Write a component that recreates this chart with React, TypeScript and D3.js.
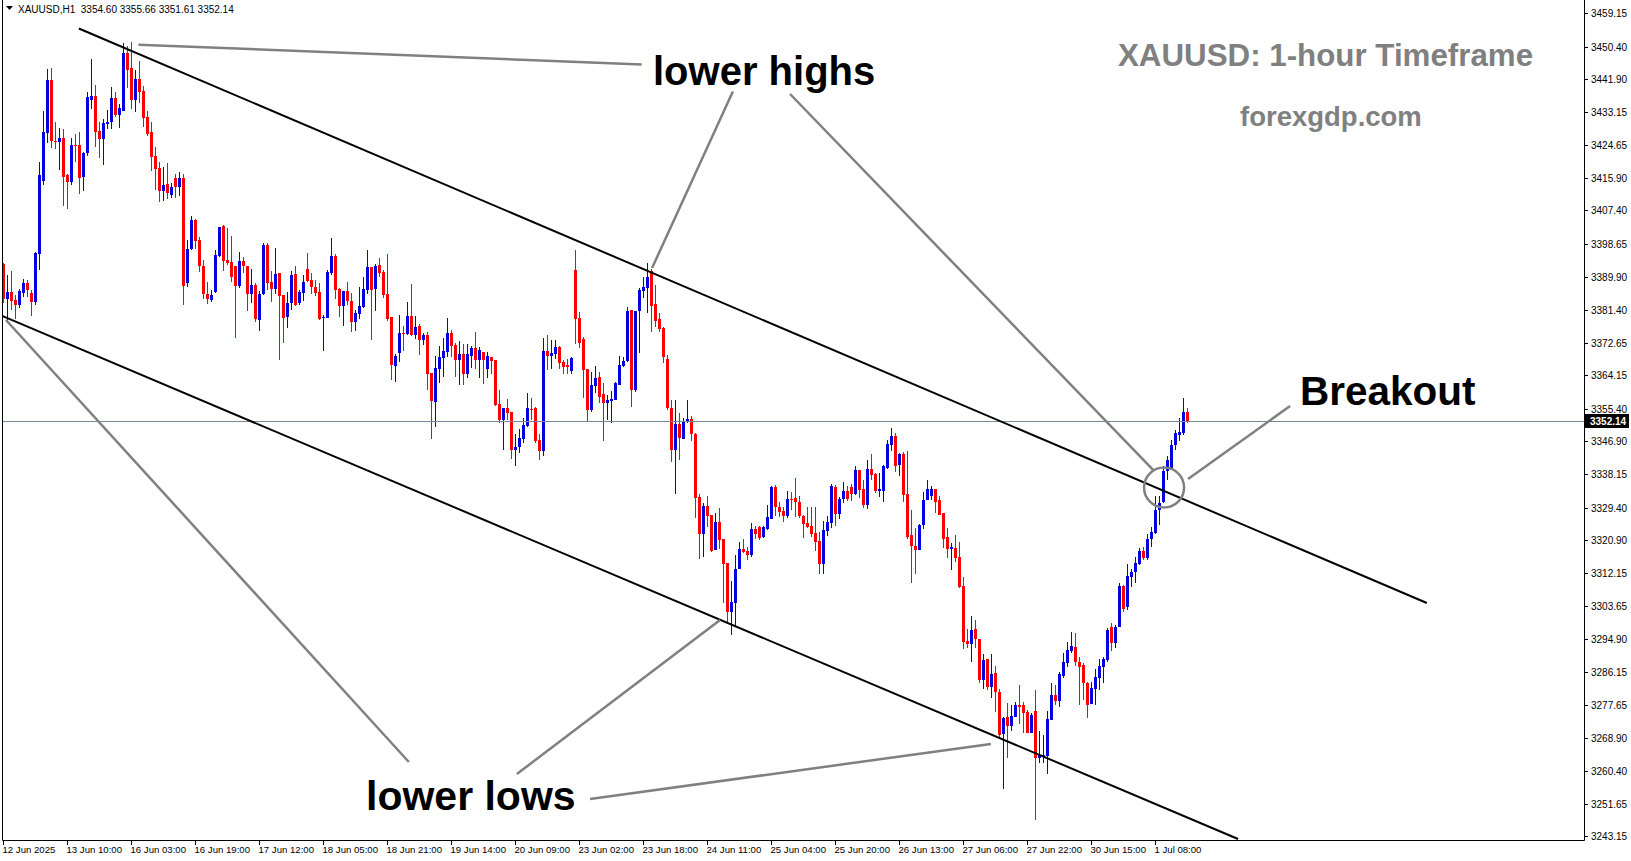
import React, { useEffect, useRef } from 'react';
import * as d3 from 'd3';

// XAUUSD H1 candles, bar 0 = 12 Jun 2025 17:00, last bar = 1 Jul 16:00
const opens = [
  3393.3, 3384.1, 3386.0, 3383.9, 3382.6, 3385.8, 3388.4, 3385.7, 3383.5, 3395.9,
  3415.2, 3427.8, 3441.6, 3425.7, 3425.4, 3426.4, 3416.7, 3414.9, 3424.6, 3424.6,
  3416.3, 3422.5, 3436.4, 3437.4, 3428.2, 3426.2, 3430.1, 3430.6, 3436.9, 3432.5,
  3433.5, 3448.7, 3444.8, 3436.4, 3441.9, 3438.8, 3431.9, 3428.0, 3421.7, 3418.6,
  3412.5, 3414.4, 3411.5, 3416.0, 3413.5, 3416.0, 3388.4, 3397.2, 3404.9, 3399.6,
  3392.7, 3385.6, 3383.9, 3386.1, 3395.5, 3403.2, 3394.4, 3394.0, 3392.8, 3387.7,
  3394.1, 3392.8, 3385.6, 3387.8, 3378.7, 3385.6, 3398.3, 3388.6, 3386.9, 3391.0,
  3385.2, 3379.4, 3383.1, 3390.7, 3383.0, 3385.8, 3392.0, 3389.1, 3387.3, 3386.0,
  3379.1, 3379.3, 3391.1, 3395.5, 3386.8, 3382.3, 3386.3, 3383.7, 3378.2, 3380.3,
  3382.0, 3386.5, 3392.6, 3386.8, 3393.1, 3391.3, 3385.5, 3379.4, 3366.7, 3370.1,
  3375.2, 3375.1, 3379.7, 3374.6, 3377.1, 3373.4, 3374.7, 3364.8, 3357.1, 3365.9,
  3368.7, 3370.3, 3375.2, 3372.1, 3368.2, 3369.7, 3364.6, 3369.3, 3371.4, 3368.2,
  3370.3, 3365.9, 3369.0, 3368.2, 3356.6, 3352.4, 3355.5, 3354.4, 3344.5, 3345.2,
  3347.3, 3350.8, 3355.4, 3355.5, 3347.2, 3344.3, 3370.5, 3369.2, 3369.7, 3371.6,
  3367.6, 3366.8, 3365.3, 3391.8, 3379.1, 3373.6, 3365.9, 3355.0, 3361.4, 3363.8,
  3359.2, 3356.9, 3357.5, 3357.6, 3361.7, 3366.6, 3367.9, 3381.2, 3360.3, 3381.0,
  3386.3, 3387.1, 3391.6, 3382.8, 3378.8, 3376.5, 3368.5, 3355.5, 3344.4, 3351.3,
  3347.5, 3352.0, 3352.6, 3348.7, 3332.2, 3322.5, 3329.8, 3327.5, 3318.3, 3325.7,
  3321.2, 3314.9, 3302.0, 3304.4, 3313.2, 3318.5, 3318.0, 3317.0, 3323.8, 3324.3,
  3321.6, 3323.9, 3326.5, 3334.9, 3329.6, 3328.5, 3327.3, 3331.6, 3332.0, 3331.0,
  3327.3, 3325.4, 3324.6, 3322.7, 3320.6, 3314.5, 3323.3, 3325.5, 3334.9, 3327.7,
  3331.6, 3333.8, 3334.9, 3333.0, 3339.3, 3334.3, 3330.1, 3339.5, 3338.2, 3333.8,
  3333.8, 3339.9, 3345.9, 3348.2, 3340.5, 3343.5, 3333.1, 3322.2, 3319.4, 3318.3,
  3324.8, 3331.4, 3332.5, 3334.3, 3331.4, 3327.9, 3321.8, 3318.6, 3318.7, 3316.5,
  3308.9, 3294.4, 3293.6, 3297.5, 3295.0, 3284.2, 3289.6, 3282.4, 3285.9, 3281.1,
  3270.0, 3274.5, 3272.2, 3274.5, 3277.6, 3277.6, 3275.8, 3270.3, 3275.9, 3263.6,
  3263.9, 3264.3, 3273.7, 3280.2, 3278.7, 3285.3, 3288.7, 3291.9, 3292.9, 3288.8,
  3288.1, 3283.5, 3277.8, 3281.8, 3284.6, 3287.5, 3289.4, 3298.1, 3293.9, 3298.1,
  3308.8, 3303.4, 3311.3, 3312.4, 3314.6, 3318.0, 3316.1, 3321.1, 3322.8, 3328.8,
  3331.0, 3339.1, 3339.4, 3345.8, 3348.5, 3348.9, 3354.60,
];

const highs = [
  3393.5, 3390.5, 3391.5, 3385.2, 3386.7, 3389.5, 3389.1, 3386.6, 3396.6, 3420.1,
  3433.5, 3444.5, 3444.8, 3430.5, 3429.0, 3428.8, 3417.0, 3426.4, 3427.5, 3428.0,
  3422.8, 3438.5, 3447.1, 3440.3, 3430.6, 3431.3, 3433.8, 3439.9, 3438.5, 3435.3,
  3451.3, 3450.6, 3451.5, 3444.3, 3446.6, 3440.1, 3433.5, 3430.6, 3424.0, 3420.1,
  3418.9, 3419.9, 3414.5, 3417.0, 3417.5, 3417.0, 3399.6, 3406.0, 3405.2, 3400.5,
  3394.4, 3388.6, 3386.5, 3397.0, 3403.1, 3403.7, 3402.7, 3400.7, 3392.8, 3396.5,
  3395.3, 3392.8, 3392.0, 3388.4, 3386.3, 3398.9, 3398.8, 3391.6, 3397.5, 3391.0,
  3385.2, 3386.0, 3391.6, 3392.8, 3386.5, 3390.5, 3396.2, 3391.1, 3389.1, 3388.3,
  3380.0, 3391.8, 3400.1, 3395.9, 3387.0, 3386.3, 3388.7, 3385.8, 3381.3, 3387.4,
  3390.0, 3397.0, 3392.6, 3393.3, 3395.0, 3391.8, 3396.0, 3379.4, 3369.6, 3380.0,
  3377.1, 3383.4, 3388.1, 3379.7, 3377.7, 3375.2, 3375.4, 3364.8, 3369.2, 3371.8,
  3373.8, 3379.2, 3375.9, 3372.5, 3373.1, 3372.3, 3372.3, 3371.7, 3375.5, 3371.6,
  3370.3, 3370.3, 3369.0, 3368.2, 3360.4, 3355.5, 3357.8, 3354.4, 3348.7, 3350.0,
  3352.8, 3359.4, 3358.1, 3355.9, 3348.7, 3373.8, 3374.6, 3373.4, 3373.4, 3371.8,
  3368.1, 3368.3, 3369.0, 3397.0, 3380.8, 3374.1, 3365.9, 3365.1, 3366.6, 3365.1,
  3362.0, 3359.0, 3360.0, 3362.5, 3369.2, 3369.0, 3382.0, 3381.3, 3381.0, 3387.0,
  3390.0, 3393.5, 3392.0, 3387.8, 3380.4, 3376.9, 3369.5, 3357.6, 3357.6, 3354.2,
  3352.8, 3357.6, 3353.5, 3348.9, 3332.9, 3330.5, 3332.4, 3327.5, 3327.9, 3329.2,
  3321.2, 3314.9, 3310.2, 3317.0, 3320.5, 3321.1, 3319.2, 3325.5, 3324.6, 3324.7,
  3324.7, 3330.1, 3335.2, 3335.3, 3331.0, 3329.5, 3333.8, 3333.5, 3337.1, 3332.5,
  3327.5, 3329.6, 3329.5, 3329.5, 3323.1, 3326.0, 3327.2, 3335.6, 3335.3, 3332.1,
  3336.2, 3335.1, 3335.6, 3340.4, 3339.3, 3336.6, 3341.9, 3343.5, 3338.6, 3338.4,
  3340.6, 3347.2, 3350.2, 3349.1, 3343.7, 3344.1, 3344.3, 3328.8, 3324.0, 3325.1,
  3333.6, 3336.6, 3335.1, 3334.3, 3332.5, 3327.9, 3324.0, 3320.2, 3322.2, 3320.3,
  3311.3, 3297.5, 3300.9, 3299.9, 3295.0, 3291.0, 3289.8, 3291.0, 3287.8, 3281.9,
  3274.5, 3278.2, 3277.6, 3278.5, 3282.8, 3278.5, 3276.3, 3275.4, 3281.5, 3270.9,
  3269.7, 3275.9, 3283.3, 3282.8, 3286.3, 3291.2, 3294.2, 3296.8, 3296.4, 3290.3,
  3288.5, 3283.7, 3283.7, 3287.0, 3289.8, 3290.3, 3297.7, 3299.0, 3298.6, 3309.7,
  3309.1, 3314.6, 3313.2, 3316.5, 3318.7, 3319.2, 3322.6, 3324.4, 3332.4, 3332.4,
  3340.2, 3342.9, 3347.2, 3349.8, 3352.8, 3358.1, 3355.66,
];

const lows = [
  3383.2, 3378.0, 3381.3, 3378.8, 3381.9, 3384.8, 3384.8, 3379.8, 3382.6, 3391.9,
  3414.2, 3425.0, 3423.7, 3423.5, 3418.0, 3408.7, 3407.9, 3414.2, 3420.2, 3411.6,
  3412.5, 3421.8, 3434.0, 3424.0, 3421.3, 3419.3, 3428.9, 3428.9, 3432.0, 3429.1,
  3433.5, 3439.5, 3434.0, 3433.2, 3435.6, 3429.4, 3427.0, 3417.8, 3412.8, 3409.6,
  3410.0, 3410.5, 3410.8, 3410.8, 3411.3, 3382.6, 3387.4, 3397.0, 3397.3, 3391.3,
  3384.1, 3382.8, 3383.5, 3385.8, 3395.3, 3391.5, 3393.1, 3388.7, 3374.0, 3387.0,
  3390.9, 3381.1, 3383.2, 3378.0, 3375.8, 3385.2, 3386.5, 3383.5, 3385.6, 3368.1,
  3372.7, 3376.6, 3381.3, 3382.4, 3382.6, 3383.6, 3388.7, 3385.6, 3385.0, 3378.6,
  3370.6, 3379.1, 3390.5, 3384.2, 3379.5, 3377.1, 3382.6, 3375.6, 3375.8, 3378.9,
  3381.7, 3385.6, 3373.4, 3381.1, 3390.0, 3384.3, 3378.5, 3362.9, 3362.4, 3367.7,
  3370.5, 3374.7, 3374.5, 3373.6, 3369.5, 3372.1, 3360.3, 3347.5, 3350.6, 3362.0,
  3363.8, 3369.0, 3369.0, 3363.8, 3361.7, 3361.7, 3363.3, 3366.1, 3365.9, 3363.5,
  3361.8, 3363.4, 3364.5, 3356.2, 3351.7, 3344.5, 3352.4, 3342.1, 3340.3, 3343.8,
  3346.4, 3350.6, 3352.4, 3346.4, 3341.9, 3343.0, 3365.5, 3365.7, 3368.3, 3365.7,
  3364.5, 3364.6, 3364.5, 3372.4, 3371.2, 3358.1, 3352.0, 3354.6, 3359.4, 3356.8,
  3347.0, 3352.4, 3351.7, 3357.6, 3361.5, 3366.4, 3367.7, 3355.9, 3359.7, 3370.1,
  3384.3, 3380.6, 3375.6, 3376.9, 3375.6, 3367.3, 3355.0, 3341.5, 3333.0, 3341.9,
  3347.3, 3351.5, 3347.0, 3326.6, 3316.0, 3316.5, 3324.4, 3317.8, 3318.3, 3318.5,
  3304.4, 3299.5, 3296.0, 3298.0, 3313.2, 3317.6, 3315.6, 3316.5, 3321.1, 3320.9,
  3321.4, 3323.5, 3326.3, 3327.2, 3326.9, 3325.7, 3326.6, 3328.8, 3326.9, 3326.6,
  3321.5, 3324.0, 3321.6, 3318.1, 3311.9, 3311.9, 3322.0, 3324.1, 3324.6, 3326.3,
  3330.5, 3331.2, 3331.1, 3332.7, 3332.0, 3329.2, 3329.0, 3336.6, 3333.2, 3332.1,
  3331.0, 3339.5, 3344.3, 3338.8, 3337.7, 3331.0, 3321.3, 3309.7, 3311.9, 3318.3,
  3323.7, 3331.4, 3331.4, 3327.9, 3327.5, 3318.9, 3316.3, 3313.0, 3315.2, 3308.2,
  3292.3, 3292.5, 3289.0, 3292.5, 3283.3, 3281.8, 3281.5, 3279.5, 3275.8, 3269.3,
  3255.5, 3263.6, 3270.9, 3274.5, 3272.6, 3270.3, 3270.2, 3270.2, 3247.4, 3262.5,
  3262.3, 3259.5, 3273.7, 3277.6, 3277.0, 3284.6, 3287.7, 3291.3, 3287.8, 3277.6,
  3278.9, 3274.3, 3277.8, 3277.6, 3281.5, 3283.4, 3289.0, 3291.9, 3292.5, 3298.0,
  3302.1, 3302.5, 3308.5, 3309.5, 3314.3, 3315.7, 3315.6, 3319.2, 3322.6, 3324.8,
  3330.5, 3336.7, 3339.3, 3344.5, 3347.0, 3348.5, 3351.61,
];

const closes = [
  3384.1, 3386.0, 3383.7, 3382.6, 3386.3, 3388.4, 3386.5, 3383.5, 3396.3, 3416.7,
  3428.0, 3441.6, 3425.7, 3425.5, 3426.4, 3416.3, 3414.9, 3424.6, 3424.3, 3416.0,
  3422.5, 3437.2, 3437.4, 3428.1, 3426.2, 3430.4, 3430.6, 3436.9, 3432.4, 3434.3,
  3448.7, 3444.3, 3436.4, 3441.9, 3438.5, 3431.7, 3427.5, 3421.4, 3418.3, 3412.5,
  3414.1, 3412.0, 3413.5, 3413.5, 3416.0, 3387.6, 3397.2, 3404.9, 3399.5, 3392.9,
  3385.4, 3384.2, 3385.1, 3395.7, 3403.1, 3394.2, 3393.5, 3390.0, 3387.6, 3394.1,
  3392.8, 3385.5, 3387.8, 3378.9, 3385.6, 3398.4, 3388.3, 3386.9, 3390.7, 3385.0,
  3379.3, 3383.1, 3390.5, 3382.6, 3385.9, 3388.7, 3389.0, 3387.4, 3385.8, 3379.0,
  3379.5, 3391.3, 3395.4, 3386.5, 3382.3, 3386.3, 3383.7, 3378.2, 3380.4, 3382.3,
  3386.8, 3392.6, 3386.5, 3392.9, 3391.1, 3385.2, 3378.8, 3366.8, 3369.3, 3375.2,
  3375.1, 3379.6, 3374.6, 3376.9, 3373.5, 3374.6, 3364.6, 3357.3, 3366.0, 3368.9,
  3370.5, 3375.2, 3371.8, 3368.1, 3369.7, 3364.6, 3369.6, 3371.4, 3368.2, 3370.8,
  3368.2, 3369.1, 3368.0, 3356.3, 3352.4, 3355.5, 3354.3, 3344.5, 3345.2, 3347.6,
  3351.1, 3355.5, 3355.2, 3346.9, 3344.3, 3370.5, 3369.2, 3369.9, 3371.6, 3367.3,
  3366.4, 3366.4, 3368.8, 3379.0, 3372.7, 3365.5, 3355.0, 3361.6, 3363.5, 3358.5,
  3356.8, 3357.6, 3357.9, 3362.2, 3366.8, 3367.9, 3381.0, 3360.3, 3381.0, 3386.5,
  3387.2, 3390.0, 3382.3, 3378.5, 3376.4, 3369.0, 3355.5, 3344.4, 3351.3, 3347.8,
  3352.0, 3352.6, 3348.6, 3332.0, 3322.5, 3329.8, 3327.3, 3318.0, 3325.7, 3320.9,
  3314.7, 3302.0, 3304.7, 3313.3, 3318.5, 3317.8, 3317.0, 3323.8, 3322.5, 3321.5,
  3324.3, 3326.9, 3334.9, 3329.5, 3328.3, 3327.3, 3331.6, 3331.5, 3330.8, 3327.3,
  3325.2, 3324.4, 3322.5, 3320.5, 3314.5, 3323.5, 3325.6, 3335.1, 3327.7, 3331.7,
  3333.8, 3331.7, 3333.0, 3339.3, 3334.0, 3330.0, 3339.5, 3338.0, 3333.8, 3334.3,
  3340.2, 3346.1, 3348.2, 3340.3, 3343.5, 3332.7, 3321.8, 3319.4, 3318.3, 3324.8,
  3331.4, 3334.2, 3334.3, 3331.0, 3327.5, 3321.2, 3318.5, 3319.2, 3316.3, 3308.5,
  3294.2, 3293.6, 3297.3, 3294.8, 3284.2, 3289.4, 3282.4, 3285.7, 3281.1, 3269.7,
  3274.3, 3272.2, 3274.7, 3277.6, 3277.1, 3275.4, 3270.3, 3275.0, 3263.6, 3264.5,
  3264.5, 3273.9, 3280.2, 3278.7, 3285.7, 3288.8, 3292.0, 3293.1, 3289.0, 3287.6,
  3283.3, 3277.6, 3282.0, 3284.9, 3287.8, 3289.6, 3297.3, 3293.9, 3298.1, 3308.8,
  3302.7, 3311.5, 3312.6, 3314.8, 3318.0, 3316.1, 3321.1, 3323.1, 3328.8, 3330.5,
  3339.1, 3341.9, 3345.8, 3348.9, 3349.3, 3354.4, 3352.14,
];

// one label every 16 bars
const timeLabels = [
  '12 Jun 2025', '13 Jun 10:00', '16 Jun 03:00', '16 Jun 19:00', '17 Jun 12:00',
  '18 Jun 05:00', '18 Jun 21:00', '19 Jun 14:00', '20 Jun 09:00', '23 Jun 02:00',
  '23 Jun 18:00', '24 Jun 11:00', '25 Jun 04:00', '25 Jun 20:00', '26 Jun 13:00',
  '27 Jun 06:00', '27 Jun 22:00', '30 Jun 15:00', '1 Jul 08:00',
];
const labelEvery = 16;

const priceTicks = [
  3459.15, 3450.40, 3441.90, 3433.15, 3424.65, 3415.90, 3407.40, 3398.65, 3389.90,
  3381.40, 3372.65, 3364.15, 3355.40, 3346.90, 3338.15, 3329.40, 3320.90, 3312.15,
  3303.65, 3294.90, 3286.15, 3277.65, 3268.90, 3260.40, 3251.65, 3243.15,
];

const lastPrice = 3352.14;
const header = 'XAUUSD,H1  3354.60 3355.66 3351.61 3352.14';

// drawn objects, as [bar, price] pairs
const channel = [
  [[18.8, 3455.16], [355.8, 3304.37]],
  [[-0.24, 3379.67], [308.6, 3242.43]],
];
const pointers = [
  [[33.7, 3450.91], [159.5, 3445.71]],
  [[182.3, 3438.62], [162.1, 3392.3]],
  [[196.6, 3437.97], [287.6, 3339.02]],
  [[0.58, 3378.65], [101.3, 3262.64]],
  [[128.3, 3259.49], [179.1, 3299.91]],
  [[146.6, 3252.93], [246.8, 3267.36]],
  [[296.1, 3336.92], [321.6, 3356.08]],
];
const breakoutCircle = [290.1, 3334.69];

const W = 1631;
const H = 861;
const axisX = 1584;
const bottomY = 840;
const leftX = 2.5;

export default function App() {
  const ref = useRef<SVGSVGElement>(null);

  useEffect(() => {
    const svg = d3.select(ref.current);
    svg.selectAll('*').remove();

    const n = closes.length;
    const x = d3.scaleLinear().domain([0, n - 1]).range([3.67, 3.67 + 4 * (n - 1)]);
    const y = d3.scaleLinear().domain([3243.15, 3459.15]).range([836.25, 13.3]);

    svg.append('rect').attr('width', W).attr('height', H).attr('fill', '#fff');

    const plot = svg.append('g');

    // candles
    const bars = d3.range(n);
    const col = (i: number) => (closes[i] >= opens[i] ? '#0000e0' : '#ff0000');
    plot.selectAll('.wick')
      .data(bars)
      .enter().append('rect')
      .attr('x', (i) => Math.floor(x(i)))
      .attr('width', 1)
      .attr('y', (i) => Math.round(y(highs[i])))
      .attr('height', (i) => Math.max(1, Math.round(y(lows[i])) - Math.round(y(highs[i]))))
      .attr('fill', col)
      .attr('shape-rendering', 'crispEdges');
    plot.selectAll('.body')
      .data(bars)
      .enter().append('rect')
      .attr('x', (i) => Math.floor(x(i)) - 1)
      .attr('width', 3)
      .attr('y', (i) => Math.round(y(Math.max(opens[i], closes[i]))))
      .attr('height', (i) => Math.max(1, Math.round(y(Math.min(opens[i], closes[i]))) - Math.round(y(Math.max(opens[i], closes[i])))))
      .attr('fill', col)
      .attr('shape-rendering', 'crispEdges');

    // last price line
    plot.append('line')
      .attr('x1', leftX).attr('x2', axisX)
      .attr('y1', Math.round(y(lastPrice)) + 0.5).attr('y2', Math.round(y(lastPrice)) + 0.5)
      .attr('stroke', '#778899').attr('stroke-width', 1);

    const line = d3.line<number[]>().x((d) => x(d[0])).y((d) => y(d[1]));

    // channel
    channel.forEach((seg) => {
      plot.append('path').attr('d', line(seg))
        .attr('stroke', '#000').attr('stroke-width', 2).attr('fill', 'none');
    });

    // annotation pointers
    pointers.forEach((seg) => {
      plot.append('path').attr('d', line(seg))
        .attr('stroke', '#808080').attr('stroke-width', 2.5).attr('fill', 'none');
    });
    plot.append('circle')
      .attr('cx', x(breakoutCircle[0])).attr('cy', y(breakoutCircle[1])).attr('r', 20)
      .attr('fill', 'none').attr('stroke', '#808080').attr('stroke-width', 2.5);

    // annotation text
    const bold = "'Liberation Sans', Arial, sans-serif";
    const note = (t: string, tx: number, ty: number, size: number, fill: string) =>
      svg.append('text').attr('x', tx).attr('y', ty).text(t)
        .attr('font-family', bold).attr('font-weight', 'bold')
        .attr('font-size', size).attr('fill', fill);
    note('lower highs', 653, 85, 40, '#000');
    note('Breakout', 1300, 405, 40.5, '#000');
    note('lower lows', 366, 810, 41, '#000');
    note('XAUUSD: 1-hour Timeframe', 1118, 66, 31.3, '#808080');
    note('forexgdp.com', 1240, 126, 27.5, '#808080');

    // frame
    svg.append('line').attr('x1', leftX).attr('x2', leftX).attr('y1', 0).attr('y2', bottomY + 0.5)
      .attr('stroke', '#000');
    svg.append('line').attr('x1', leftX).attr('x2', axisX + 0.5).attr('y1', bottomY + 0.5).attr('y2', bottomY + 0.5)
      .attr('stroke', '#000');
    svg.append('line').attr('x1', axisX + 0.5).attr('x2', axisX + 0.5).attr('y1', 0).attr('y2', bottomY + 0.5)
      .attr('stroke', '#000');

    const small = "'Liberation Sans', Arial, sans-serif";

    // price axis
    const pa = svg.append('g');
    priceTicks.forEach((p) => {
      const py = Math.round(y(p)) + 0.5;
      pa.append('line').attr('x1', axisX).attr('x2', axisX + 4).attr('y1', py).attr('y2', py).attr('stroke', '#000');
      pa.append('text').attr('x', 1591).attr('y', py).attr('dy', '0.35em').text(p.toFixed(2))
        .attr('font-family', small).attr('font-size', 10).attr('fill', '#000');
    });
    const ly = Math.round(y(lastPrice));
    pa.append('rect').attr('x', axisX + 1).attr('y', ly - 7).attr('width', 44).attr('height', 14).attr('fill', '#000');
    pa.append('text').attr('x', 1590).attr('y', ly).attr('dy', '0.35em').text(lastPrice.toFixed(2))
      .attr('font-family', small).attr('font-size', 10).attr('font-weight', 'bold').attr('fill', '#fff');

    // time axis
    const ta = svg.append('g');
    timeLabels.forEach((t, k) => {
      const tx = Math.floor(x(k * labelEvery)) + 0.5;
      ta.append('line').attr('x1', tx).attr('x2', tx).attr('y1', bottomY).attr('y2', bottomY + 5).attr('stroke', '#000');
      ta.append('text').attr('x', tx - 1).attr('y', 853).text(t)
        .attr('font-family', small).attr('font-size', 9.6).attr('fill', '#000');
    });

    // header
    svg.append('path').attr('d', 'M6,6 L13,6 L9.5,10 Z').attr('fill', '#000');
    svg.append('text').attr('x', 18).attr('y', 13).text(header)
      .attr('font-family', small).attr('font-size', 10).attr('fill', '#000')
      .attr('xml:space', 'preserve').style('white-space', 'pre');
  }, []);

  return (
    <svg ref={ref} width={W} height={H} style={{ position: 'absolute', left: 0, top: 0 }} />
  );
}
